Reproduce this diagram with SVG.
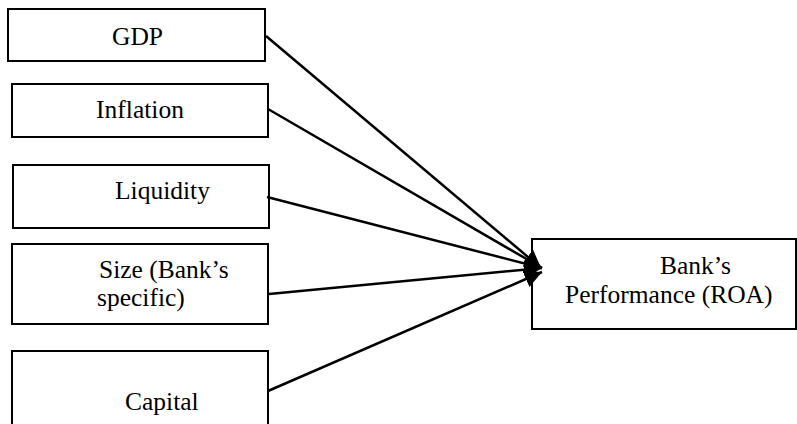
<svg xmlns="http://www.w3.org/2000/svg" width="797" height="424" viewBox="0 0 797 424">
<defs>
<style>
.box{fill:#fff;stroke:#000;stroke-width:2}
.t{font-family:"Liberation Serif","DejaVu Serif",serif;font-size:25.5px;fill:#000}
.c line{stroke:#000;stroke-width:2.5}
</style>
<marker id="ah" viewBox="0 0 10 10" refX="10" refY="5" markerWidth="7" markerHeight="7" markerUnits="strokeWidth" orient="auto">
<path d="M0,0 L10,5 L0,10 Z" fill="#000"/>
</marker>
</defs>
<rect width="797" height="424" fill="#fff"/>
<g id="gdp"><rect class="box" x="8" y="9" width="257" height="52"/><text class="t" x="137.5" y="45" text-anchor="middle">GDP</text></g>
<g id="inflation"><rect class="box" x="12" y="84" width="256" height="53"/><text class="t" x="140" y="118" text-anchor="middle">Inflation</text></g>
<g id="liquidity"><rect class="box" x="13" y="165" width="256" height="63"/><text class="t" x="115" y="199">Liquidity</text></g>
<g id="size"><rect class="box" x="12" y="244" width="256" height="80"/><text class="t" x="99" y="278">Size (Bank’s</text><text class="t" x="97" y="306">specific)</text></g>
<g id="capital"><rect class="box" x="12" y="351" width="256" height="80"/><text class="t" x="125" y="410">Capital</text></g>
<g id="roa"><rect class="box" x="532" y="239" width="264" height="90"/><text class="t" x="660" y="274">Bank’s</text><text class="t" x="565" y="303">Performance (ROA)</text></g>
<g class="c" id="connectors">
<line x1="266" y1="36" x2="541" y2="268" marker-end="url(#ah)"/>
<line x1="268" y1="109" x2="542" y2="268" marker-end="url(#ah)"/>
<line x1="267" y1="197" x2="542" y2="268" marker-end="url(#ah)"/>
<line x1="269" y1="294" x2="542" y2="268" marker-end="url(#ah)"/>
<line x1="268" y1="391" x2="542" y2="272" marker-end="url(#ah)"/>
</g>
</svg>
